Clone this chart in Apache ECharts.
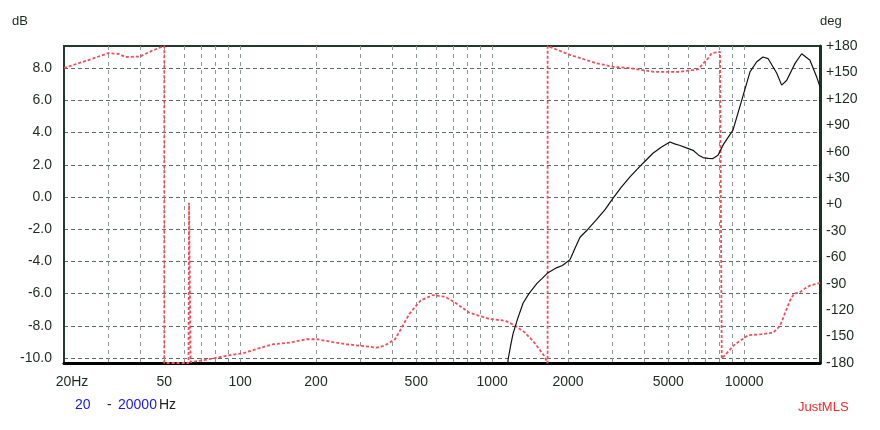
<!DOCTYPE html>
<html>
<head>
<meta charset="utf-8">
<script src="https://cdn.jsdelivr.net/npm/echarts@6/dist/echarts.min.js"></script>
<style>
  html, body { margin: 0; padding: 0; background: #fff; }
  #chart { width: 880px; height: 430px; }
</style>
</head>
<body>
<div id="chart"></div>
<script>
// frequency response (black, dB) and phase (red dotted, deg)
var magFreq = [1140, 1160, 1185, 1210, 1260, 1326, 1400, 1509, 1580, 1666, 1800, 1900, 2036, 2130, 2232, 2400, 2580, 2800, 3020, 3250, 3524, 3750, 3970, 4347, 4700, 5080, 5300, 5570, 5900, 6270, 6600, 6870, 7200, 7520, 7870, 8300, 9030, 9780, 10550, 11220, 11880, 12440, 13460, 14090, 14760, 15920, 16920, 18250, 19400, 20000];
var magDb = [-10.8, -10.0, -9.2, -8.5, -7.6, -6.6, -6.0, -5.35, -5.05, -4.7, -4.4, -4.25, -3.9, -3.2, -2.5, -2.0, -1.45, -0.8, -0.07, 0.6, 1.25, 1.7, 2.1, 2.72, 3.1, 3.42, 3.3, 3.2, 3.05, 2.9, 2.6, 2.45, 2.4, 2.39, 2.6, 3.3, 4.15, 6.0, 7.77, 8.4, 8.7, 8.6, 7.7, 6.95, 7.25, 8.3, 8.9, 8.5, 7.46, 6.84];

var phaseFreq = [20, 25, 30, 33, 35, 40, 45, 50, 50, 62.4, 62.7, 63.3, 63.6, 72.5, 80.7, 91.2, 102.6, 116.4, 135, 157.7, 183.7, 201.3, 227.3, 264.9, 303.8, 348, 376, 413, 470, 520, 582, 650, 710, 810, 975, 1130, 1240, 1350, 1470, 1610, 1660, 1660, 1800, 2036, 2580, 3020, 3500, 4380, 5560, 6560, 7190, 7430, 8020, 8150, 9200, 10390, 11740, 13060, 13880, 15210, 15800, 16600, 17500, 18250, 20000];
var phaseDeg = [155, 164, 172, 171, 167.5, 168, 175, 180, -180, -180, 2, 2, -179, -176.5, -174, -171, -169, -164, -158.7, -156.8, -153, -153, -155.7, -158.7, -160.6, -162.5, -160, -152.6, -124, -109, -102.8, -104.8, -111, -122.7, -130, -132, -138, -145.5, -156.8, -172, -180, 180, 176, 170, 160.6, 156.4, 155, 150.7, 150.7, 153.5, 166, 171.7, 173.5, -175, -158.7, -148.4, -147.3, -145.5, -137.8, -109, -101, -100, -95, -92, -89];

var xLabelFreqs = [20, 50, 100, 200, 500, 1000, 2000, 5000, 10000];
var xGridFreqs = [20, 30, 40, 50, 60, 70, 80, 90, 100, 200, 300, 400, 500, 600, 700, 800, 900, 1000, 2000, 3000, 4000, 5000, 6000, 7000, 8000, 9000, 10000, 20000];
var dbTicks = [-10, -8, -6, -4, -2, 0, 2, 4, 6, 8];

var chart = echarts.init(document.getElementById('chart'));
var font = 'Liberation Sans';
var txt = '#1c2b22';

chart.setOption({
  animation: false,
  backgroundColor: '#fff',
  grid: {
    left: 64, right: 60, top: 46, bottom: 67,
    show: true, borderColor: '#24392e', borderWidth: 2
  },
  xAxis: {
    type: 'log', logBase: 10, min: 20, max: 20000,
    axisLine: { show: true, onZero: false, lineStyle: { color: '#000', width: 3 } },
    axisTick: { show: false, customValues: xGridFreqs },
    axisLabel: {
      customValues: xLabelFreqs,
      margin: 12, fontFamily: font, fontSize: 14, color: txt,
      formatter: function (v) {
        v = Math.round(v);
        return v === 20 ? '{a|20Hz}' : String(v);
      },
      rich: { a: { padding: [0, 0, 0, 16], fontFamily: font, fontSize: 14, color: txt } }
    },
    splitLine: { show: true, lineStyle: { color: '#8d9893', type: [4, 4], width: 1 } }
  },
  yAxis: [
    {
      type: 'value', min: -10.31, max: 9.38,
      axisLine: { show: true, onZero: false, lineStyle: { color: '#24392e', width: 2 } },
      axisTick: { show: false, customValues: dbTicks },
      axisLabel: {
        customValues: dbTicks, margin: 12,
        fontFamily: font, fontSize: 14, color: txt,
        formatter: function (v) { return v.toFixed(1); }
      },
      splitLine: { show: true, lineStyle: { color: '#5c6b63', type: [4, 3], width: 1 } },
      name: 'dB', nameLocation: 'end', nameGap: 18,
      nameTextStyle: { fontFamily: font, fontSize: 13, color: txt, align: 'left', padding: [0, 0, 0, -52] }
    },
    {
      type: 'value', min: -180, max: 180, interval: 30, position: 'right',
      axisLine: { show: true, onZero: false, lineStyle: { color: '#1b3325', width: 3 } },
      axisTick: { show: false },
      axisLabel: {
        margin: 6, fontFamily: font, fontSize: 14, color: txt,
        formatter: function (v) { return v >= 0 ? '+' + v : String(v); }
      },
      splitLine: { show: false },
      name: 'deg', nameLocation: 'end', nameGap: 18,
      nameTextStyle: { fontFamily: font, fontSize: 13, color: txt, align: 'left', padding: [0, 0, 0, 0] }
    }
  ],
  graphic: [
    { type: 'text', left: 75, top: 398, style: { text: '20', fill: '#1a1ae6', font: '14px "Liberation Sans"' } },
    { type: 'text', left: 107, top: 398, style: { text: '-', fill: '#222', font: '14px "Liberation Sans"' } },
    { type: 'text', left: 118, top: 398, style: { text: '20000', fill: '#1a1ae6', font: '14px "Liberation Sans"' } },
    { type: 'text', left: 159, top: 398, style: { text: 'Hz', fill: '#222', font: '14px "Liberation Sans"' } },
    { type: 'text', left: 798, top: 401, style: { text: 'JustMLS', fill: '#ee2a2a', font: '13px "Liberation Sans"' } }
  ],
  series: [
    {
      type: 'line', yAxisIndex: 1, showSymbol: false, clip: true,
      data: phaseFreq.map(function (f, i) { return [f, phaseDeg[i]]; }),
      lineStyle: { color: '#f0505c', width: 1.8, type: [3, 2] }
    },
    {
      type: 'line', yAxisIndex: 0, showSymbol: false, clip: true,
      data: magFreq.map(function (f, i) { return [f, magDb[i]]; }),
      lineStyle: { color: '#111', width: 1.2 }
    }
  ]
});
</script>
</body>
</html>
